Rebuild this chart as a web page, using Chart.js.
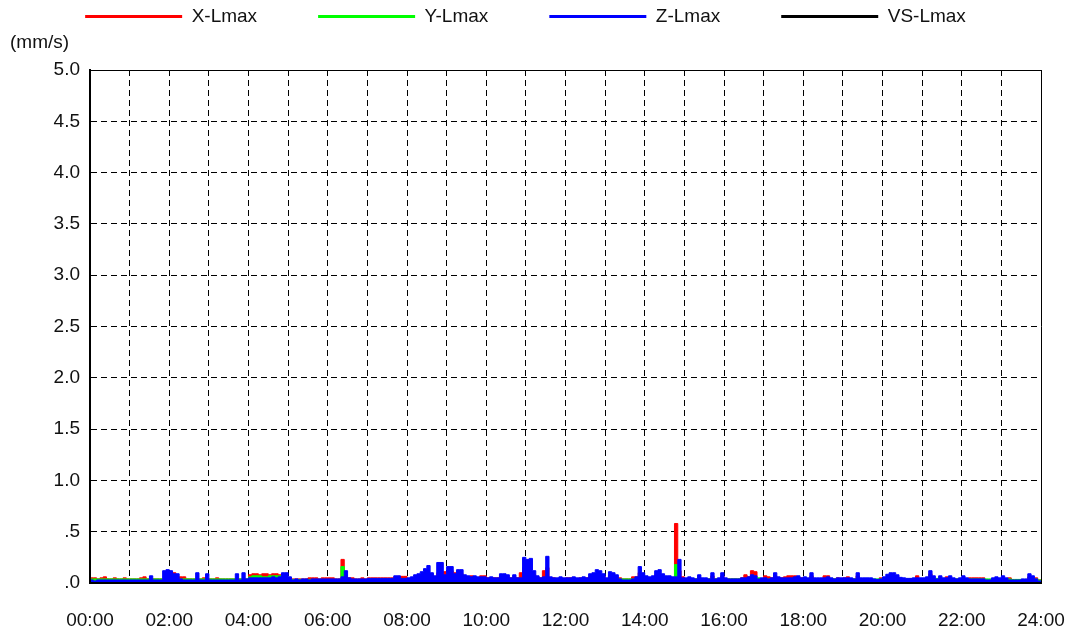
<!DOCTYPE html>
<html>
<head>
<meta charset="utf-8">
<script src="https://cdn.jsdelivr.net/npm/chart.js@4/dist/chart.umd.min.js"></script>
<style>
  html, body { margin: 0; padding: 0; background: #fff; }
  #wrap { width: 1068px; height: 630px; }
</style>
</head>
<body>
<div id="wrap"><canvas id="c" width="1068" height="630"></canvas></div>
<script>
// Vibration peak values (mm/s), one reading every 5 minutes from 00:00 to 24:00.
const SAMPLE_MINUTES = 5;

const xLmax = [
  .05,.05,.04,.05,.06,.04,.04,.05,.04,.04,.05,.04,
  .04,.04,.04,.05,.06,.04,.04,.04,.04,.04,.04,.05,
  .05,.10,.06,.06,.06,.04,.04,.04,.04,.04,.05,.04,
  .04,.04,.05,.04,.04,.04,.04,.04,.04,.04,.04,.04,
  .08,.09,.09,.08,.09,.09,.08,.09,.09,.08,.06,.06,
  .05,.04,.04,.04,.04,.04,.05,.05,.05,.04,.05,.05,
  .05,.05,.04,.04,.23,.05,.05,.05,.04,.04,.05,.04,
  .05,.05,.05,.05,.05,.05,.05,.05,.06,.065,.065,.065,
  .04,.05,.05,.06,.07,.08,.09,.08,.06,.10,.09,.11,
  .10,.12,.10,.09,.09,.06,.06,.07,.06,.05,.07,.07,
  .05,.05,.05,.05,.07,.07,.06,.05,.06,.05,.10,.15,
  .12,.10,.08,.06,.05,.12,.15,.05,.05,.04,.05,.04,
  .05,.05,.05,.04,.05,.05,.05,.06,.07,.08,.08,.07,
  .04,.07,.07,.06,.05,.04,.04,.04,.06,.06,.10,.07,
  .05,.05,.05,.08,.09,.07,.06,.06,.05,.58,.12,.06,
  .04,.04,.04,.04,.05,.04,.04,.04,.07,.04,.04,.07,
  .04,.04,.04,.04,.04,.05,.08,.06,.12,.11,.04,.04,
  .07,.06,.05,.07,.05,.05,.06,.07,.07,.07,.05,.05,
  .05,.04,.07,.04,.04,.04,.07,.07,.04,.04,.05,.04,
  .05,.06,.04,.04,.07,.04,.04,.04,.04,.03,.03,.05,
  .04,.06,.07,.07,.06,.04,.04,.04,.04,.04,.07,.04,
  .04,.05,.09,.05,.04,.05,.04,.06,.05,.04,.04,.04,
  .05,.04,.05,.05,.05,.05,.05,.03,.03,.04,.04,.04,
  .05,.04,.05,.03,.03,.03,.03,.03,.06,.05,.05,.03,
  .03
];

const yLmax = [
  .04,.04,.04,.04,.04,.04,.04,.04,.04,.04,.04,.04,
  .04,.04,.04,.04,.04,.04,.04,.04,.04,.04,.04,.04,
  .04,.04,.04,.04,.04,.04,.04,.04,.04,.04,.04,.04,
  .04,.04,.04,.04,.04,.04,.04,.04,.04,.04,.04,.04,
  .06,.07,.07,.07,.06,.06,.07,.07,.07,.07,.06,.06,
  .04,.035,.035,.035,.035,.035,.035,.035,.035,.035,.035,.035,
  .035,.035,.035,.035,.16,.05,.035,.035,.035,.035,.035,.035,
  .04,.04,.04,.04,.04,.04,.04,.04,.04,.04,.04,.04,
  .04,.04,.04,.04,.04,.04,.04,.04,.04,.04,.04,.04,
  .04,.04,.04,.04,.04,.04,.04,.04,.04,.04,.04,.04,
  .04,.04,.04,.04,.04,.04,.04,.04,.04,.04,.04,.04,
  .04,.04,.04,.04,.04,.04,.04,.04,.04,.04,.04,.04,
  .04,.04,.04,.04,.04,.04,.04,.04,.04,.04,.04,.04,
  .04,.04,.04,.04,.04,.04,.04,.04,.04,.04,.04,.04,
  .04,.04,.04,.04,.04,.04,.04,.04,.04,.18,.05,.04,
  .04,.04,.04,.04,.04,.04,.04,.04,.04,.04,.04,.04,
  .04,.04,.04,.04,.04,.04,.04,.04,.04,.04,.05,.04,
  .04,.04,.04,.04,.04,.04,.04,.04,.04,.04,.04,.04,
  .04,.04,.04,.04,.04,.04,.04,.04,.045,.04,.04,.04,
  .04,.04,.04,.04,.04,.04,.04,.04,.04,.04,.04,.04,
  .04,.04,.04,.04,.04,.04,.04,.04,.04,.04,.04,.04,
  .04,.04,.04,.04,.045,.04,.04,.04,.04,.04,.04,.04,
  .04,.04,.04,.04,.04,.04,.04,.04,.04,.04,.04,.04,
  .04,.04,.04,.035,.035,.035,.035,.035,.04,.04,.04,.03,
  .03
];

const zLmax = [
  .03,.02,.03,.03,.03,.03,.03,.03,.03,.03,.03,.03,
  .03,.03,.03,.03,.03,.03,.07,.03,.03,.03,.12,.13,
  .12,.09,.09,.04,.03,.03,.03,.03,.10,.03,.03,.09,
  .03,.03,.03,.03,.03,.03,.03,.03,.09,.03,.10,.04,
  .05,.05,.05,.05,.05,.05,.05,.06,.05,.06,.10,.10,
  .06,.03,.04,.03,.04,.04,.03,.04,.04,.04,.04,.04,
  .04,.04,.04,.04,.06,.12,.05,.04,.04,.04,.04,.04,
  .045,.045,.045,.045,.045,.045,.045,.045,.07,.07,.045,.045,
  .05,.06,.08,.09,.11,.14,.17,.10,.07,.20,.20,.08,
  .16,.16,.09,.13,.13,.08,.07,.06,.07,.06,.06,.06,
  .05,.06,.05,.05,.09,.09,.08,.05,.08,.05,.05,.25,
  .23,.24,.12,.07,.05,.06,.26,.06,.05,.05,.06,.05,
  .05,.05,.06,.05,.05,.06,.05,.09,.10,.13,.12,.09,
  .05,.11,.10,.08,.04,.03,.03,.03,.04,.06,.16,.10,
  .07,.06,.07,.12,.13,.09,.07,.07,.06,.06,.23,.05,
  .05,.06,.05,.04,.08,.05,.05,.04,.10,.04,.05,.10,
  .05,.04,.04,.04,.04,.05,.05,.06,.08,.07,.04,.05,
  .05,.04,.05,.10,.06,.05,.05,.05,.05,.06,.07,.05,
  .06,.05,.10,.05,.05,.05,.05,.06,.05,.04,.05,.05,
  .05,.05,.05,.04,.10,.05,.05,.05,.05,.04,.035,.04,
  .06,.085,.10,.10,.08,.055,.05,.045,.045,.05,.05,.05,
  .05,.06,.12,.07,.04,.07,.05,.05,.07,.05,.04,.05,
  .07,.05,.04,.04,.04,.04,.04,.03,.03,.05,.06,.05,
  .07,.05,.03,.03,.03,.03,.04,.04,.09,.07,.04,.02,
  .02
];

// VS channel carries no readings in this period; it appears in the legend only.
const vsLmax = [];

const seriesNames = ['X-Lmax', 'Y-Lmax', 'Z-Lmax', 'VS-Lmax'];
const seriesColors = ['#ff0000', '#00ff00', '#0000ff', '#000000'];
const xTickLabels = ['00:00','02:00','04:00','06:00','08:00','10:00','12:00',
                     '14:00','16:00','18:00','20:00','22:00','24:00'];
const yTickLabels = ['.0','.5','1.0','1.5','2.0','2.5','3.0','3.5','4.0','4.5','5.0'];
const unitLabel = '(mm/s)';

const FONT = "'Liberation Sans', Arial, sans-serif";
const FONT_SIZE = 19;

function toPoints(values) {
  return values.map((v, i) => ({ x: i * SAMPLE_MINUTES / 60, y: v }));
}

function areaSeries(idx, values, order) {
  return {
    label: seriesNames[idx],
    data: toPoints(values),
    borderColor: seriesColors[idx],
    backgroundColor: seriesColors[idx],
    borderWidth: 1,
    fill: 'origin',
    stepped: true,
    pointRadius: 0,
    order: order
  };
}

// Solid frame on the top and right edges of the plot.
const frameEdges = {
  id: 'frameEdges',
  afterDatasetsDraw(chart) {
    const { ctx, chartArea: a } = chart;
    ctx.save();
    ctx.strokeStyle = '#000';
    ctx.lineWidth = 1;
    ctx.beginPath();
    ctx.moveTo(a.left, a.top + 0.5);
    ctx.lineTo(a.right + 0.5, a.top + 0.5);
    ctx.lineTo(a.right + 0.5, a.bottom);
    ctx.stroke();
    ctx.restore();
  }
};

new Chart(document.getElementById('c'), {
  type: 'line',
  data: {
    datasets: [
      areaSeries(0, xLmax, 3),
      areaSeries(1, yLmax, 2),
      areaSeries(2, zLmax, 1),
      areaSeries(3, vsLmax, 0)
    ]
  },
  options: {
    responsive: false,
    animation: false,
    devicePixelRatio: 1,
    layout: { padding: { left: 10, right: 27, top: -54, bottom: 1 } },
    plugins: {
      tooltip: { enabled: false },
      legend: {
        display: true,
        position: 'top',
        labels: {
          usePointStyle: true,
          pointStyle: 'line',
          pointStyleWidth: 97,
          padding: 61,
          color: '#111',
          font: { family: FONT, size: FONT_SIZE, lineHeight: 1 },
          sort: (a, b) => a.datasetIndex - b.datasetIndex,
          generateLabels(chart) {
            return Chart.defaults.plugins.legend.labels.generateLabels(chart)
              .map(item => Object.assign(item, { lineWidth: 3 }));
          }
        }
      },
      title: {
        display: true,
        text: unitLabel,
        align: 'start',
        position: 'top',
        weight: 500,
        color: '#111',
        font: { family: FONT, size: FONT_SIZE, weight: 'normal', lineHeight: 1 },
        padding: { top: -3, bottom: 18 }
      }
    },
    scales: {
      x: {
        type: 'linear',
        min: 0,
        max: 24,
        grid: { color: '#000', lineWidth: 1, drawTicks: false },
        border: { display: true, color: '#000', width: 2, dash: [6, 4], z: 1 },
        ticks: {
          stepSize: 1,
          autoSkip: false,
          maxRotation: 0,
          padding: 28,
          color: '#111',
          font: { family: FONT, size: FONT_SIZE, lineHeight: 1 },
          callback: (v) => (v % 2 === 0 ? xTickLabels[v / 2] : '')
        },
        afterFit(scale) {
          scale.height = 46;
          scale.paddingLeft = 0;
          scale.paddingRight = 0;
        }
      },
      y: {
        min: 0,
        max: 5,
        grid: { color: '#000', lineWidth: 1, drawTicks: false },
        border: { display: true, color: '#000', width: 2, dash: [6, 4], z: 1 },
        ticks: {
          stepSize: 0.5,
          padding: 10,
          color: '#111',
          font: { family: FONT, size: FONT_SIZE, lineHeight: 1 },
          callback: (v, i) => yTickLabels[i]
        },
        afterFit(scale) { scale.width = 80; }
      }
    }
  },
  plugins: [frameEdges]
});
</script>
</body>
</html>
